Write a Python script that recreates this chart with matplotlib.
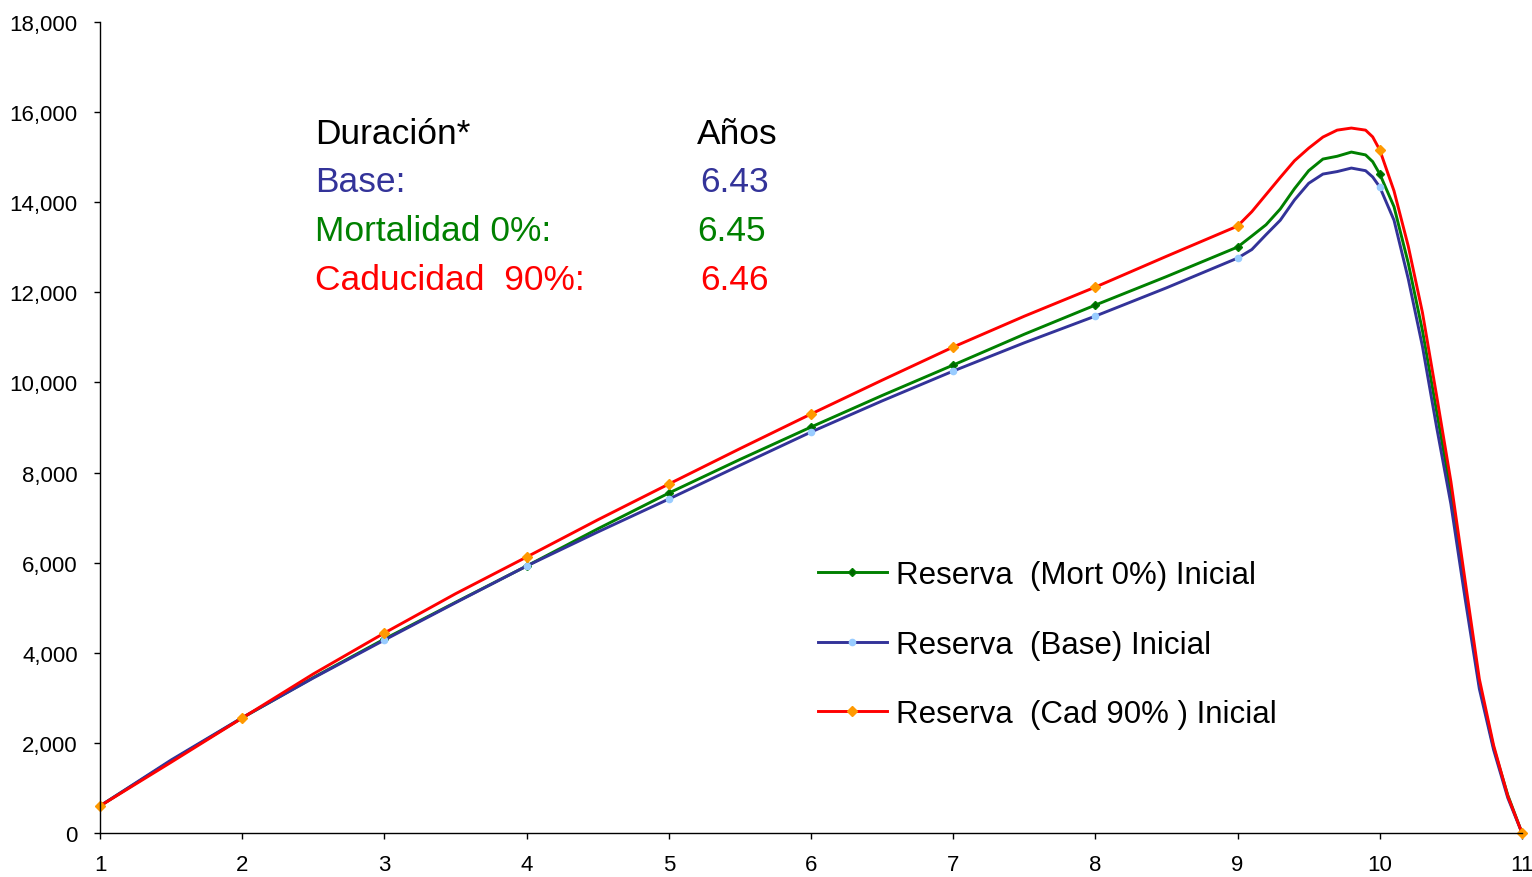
import matplotlib
matplotlib.use("Agg")
import matplotlib.pyplot as plt
from matplotlib.ticker import FuncFormatter

plt.rcParams['font.family'] = ['Liberation Sans', 'DejaVu Sans']

# time axis (years); finer steps around the peak and the run-off
anios = [1, 1.5, 2, 2.5, 3, 3.5, 4, 4.5, 5, 5.5, 6, 6.5, 7, 7.5, 8, 8.5, 9,
         9.1, 9.2, 9.3, 9.4, 9.5, 9.6, 9.7, 9.8, 9.9, 9.95, 10,
         10.1, 10.2, 10.3, 10.4, 10.5, 10.6, 10.7, 10.8, 10.9, 11]

reserva_mort0 = [600, 1600, 2555, 3450, 4305, 5120, 5925, 6750, 7545, 8290,
                 9010, 9710, 10386, 11070, 11718, 12350, 13005,
                 13250, 13500, 13850, 14300, 14700, 14958, 15020, 15113, 15050, 14900, 14625,
                 13900, 12650, 11150, 9350, 7550, 5400, 3300, 1900, 840, 0]

reserva_base = [600, 1620, 2560, 3440, 4283, 5110, 5925, 6680, 7412, 8160,
                8899, 9590, 10253, 10880, 11473, 12100, 12760,
                12950, 13280, 13600, 14050, 14420, 14625, 14680, 14758, 14700, 14560, 14336,
                13600, 12300, 10800, 9000, 7300, 5200, 3200, 1850, 780, 0]

reserva_cad90 = [600, 1570, 2552, 3530, 4439, 5310, 6125, 6950, 7745, 8530,
                 9299, 10050, 10786, 11470, 12117, 12800, 13471,
                 13790, 14170, 14550, 14920, 15200, 15446, 15600, 15646, 15600, 15450, 15158,
                 14250, 13027, 11550, 9698, 7800, 5600, 3418, 1950, 820, 0]

duracion_labels = ["Base:", "Mortalidad 0%:", "Caducidad  90%:"]
duracion_valores = ["6.43", "6.45", "6.46"]

# markers only on whole years
marcas = [i for i, a in enumerate(anios) if float(a).is_integer()]

W, H = 1532, 878
fig = plt.figure(figsize=(W / 100, H / 100), dpi=100)
ax = fig.add_axes([100 / W, 1 - 834 / H, 1422 / W, (834 - 23) / H])

ax.plot(anios, reserva_mort0, color='#008000', lw=2.1, marker='D', ms=4.5,
        mfc='#006400', mec='#008000', markevery=marcas, clip_on=False,
        label='Reserva  (Mort 0%) Inicial')
ax.plot(anios, reserva_base, color='#333399', lw=2.1, marker='o', ms=4.5,
        mfc='#99ccff', mec='#99ccff', markevery=marcas, clip_on=False,
        label='Reserva  (Base) Inicial')
ax.plot(anios, reserva_cad90, color='#ff0000', lw=2.1, marker='D', ms=5,
        mfc='#ff9900', mec='#ff9900', markevery=marcas, clip_on=False,
        label='Reserva  (Cad 90% ) Inicial')

ax.set_xlim(1, 11)
ax.set_ylim(0, 18000)
ax.set_xticks(range(1, 12))
ax.set_yticks(range(0, 18001, 2000))
ax.yaxis.set_major_formatter(FuncFormatter(lambda v, p: f"{int(v):,}"))

for s in ['top', 'right']:
    ax.spines[s].set_visible(False)
for s in ['left', 'bottom']:
    ax.spines[s].set_linewidth(1.0)
ax.tick_params(axis='both', direction='out', length=4, width=1.0, labelsize=16)
ax.tick_params(axis='y', pad=12)
ax.tick_params(axis='x', pad=11)

leg = ax.legend(loc='upper left', bbox_to_anchor=(818 / W, 1 - 561 / H),
                bbox_transform=fig.transFigure, frameon=False, fontsize=22.5,
                handlelength=2.2, handletextpad=0.3, labelspacing=1.27,
                borderpad=0, borderaxespad=0)

# duration summary block
colores = ['#333399', '#008000', '#ff0000']
fs = 25.5
fig.text(315 / W, 1 - 134 / H, "Duración*", fontsize=fs, color='black', va='center')
fig.text(697 / W, 1 - 134 / H, "Años", fontsize=fs, color='black', va='center')
filas_y = [183, 232, 281]
val_x = [700, 697, 700]
for lab, val, c, y, vx in zip(duracion_labels, duracion_valores, colores, filas_y, val_x):
    fig.text(315 / W, 1 - y / H, lab, fontsize=fs, color=c, va='center')
    fig.text(vx / W, 1 - y / H, val, fontsize=fs, color=c, va='center')

fig.savefig('out.png', dpi=100)
